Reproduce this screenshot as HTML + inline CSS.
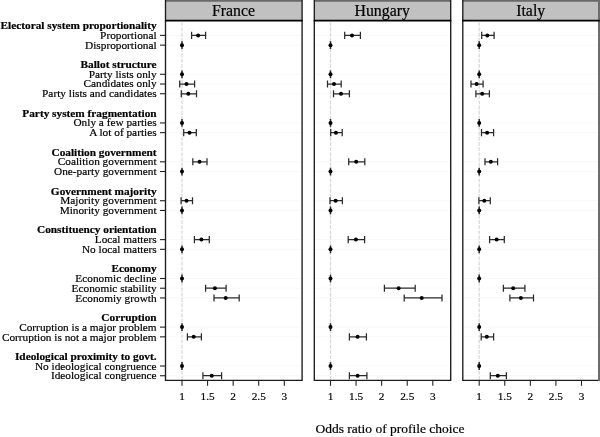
<!DOCTYPE html><html><head><meta charset="utf-8"><title>Odds ratio of profile choice</title>
<style>html,body{margin:0;padding:0;background:#fff}svg{display:block}text{font-family:"Liberation Serif",serif;fill:#000;stroke:#000;stroke-width:0.2px}</style></head><body>
<svg width="600" height="437" viewBox="0 0 600 437">
<rect x="0" y="0" width="600" height="437" fill="#fff"/>
<g font-size="11.3" text-anchor="end">
<text x="156.60" y="29.07" font-weight="bold" stroke-width="0.15">Electoral system proportionality</text>
<text x="156.60" y="38.80">Proportional</text>
<text x="156.60" y="48.54">Disproportional</text>
<text x="156.60" y="68.01" font-weight="bold" stroke-width="0.15">Ballot structure</text>
<text x="156.60" y="77.74">Party lists only</text>
<text x="156.60" y="87.47">Candidates only</text>
<text x="156.60" y="97.21">Party lists and candidates</text>
<text x="156.60" y="116.68" font-weight="bold" stroke-width="0.15">Party system fragmentation</text>
<text x="156.60" y="126.41">Only a few parties</text>
<text x="156.60" y="136.14">A lot of parties</text>
<text x="156.60" y="155.61" font-weight="bold" stroke-width="0.15">Coalition government</text>
<text x="156.60" y="165.35">Coalition government</text>
<text x="156.60" y="175.08">One-party government</text>
<text x="156.60" y="194.55" font-weight="bold" stroke-width="0.15">Government majority</text>
<text x="156.60" y="204.28">Majority government</text>
<text x="156.60" y="214.02">Minority government</text>
<text x="156.60" y="233.48" font-weight="bold" stroke-width="0.15">Constituency orientation</text>
<text x="156.60" y="243.22">Local matters</text>
<text x="156.60" y="252.95">No local matters</text>
<text x="156.60" y="272.42" font-weight="bold" stroke-width="0.15">Economy</text>
<text x="156.60" y="282.15">Economic decline</text>
<text x="156.60" y="291.89">Economic stability</text>
<text x="156.60" y="301.62">Economiy growth</text>
<text x="156.60" y="321.09" font-weight="bold" stroke-width="0.15">Corruption</text>
<text x="156.60" y="330.82">Corruption is a major problem</text>
<text x="156.60" y="340.56">Corruption is not a major problem</text>
<text x="156.60" y="360.03" font-weight="bold" stroke-width="0.15">Ideological proximity to govt.</text>
<text x="156.60" y="369.76">No ideological congruence</text>
<text x="156.60" y="379.49">Ideological congruence</text>
</g>
<g stroke="#222" stroke-width="1.1">
<line x1="160" x2="165.5" y1="35.40" y2="35.40"/>
<line x1="160" x2="165.5" y1="45.13" y2="45.13"/>
<line x1="160" x2="165.5" y1="74.30" y2="74.30"/>
<line x1="160" x2="165.5" y1="84.02" y2="84.02"/>
<line x1="160" x2="165.5" y1="93.75" y2="93.75"/>
<line x1="160" x2="165.5" y1="122.92" y2="122.92"/>
<line x1="160" x2="165.5" y1="132.64" y2="132.64"/>
<line x1="160" x2="165.5" y1="161.82" y2="161.82"/>
<line x1="160" x2="165.5" y1="171.54" y2="171.54"/>
<line x1="160" x2="165.5" y1="200.71" y2="200.71"/>
<line x1="160" x2="165.5" y1="210.44" y2="210.44"/>
<line x1="160" x2="165.5" y1="239.61" y2="239.61"/>
<line x1="160" x2="165.5" y1="249.33" y2="249.33"/>
<line x1="160" x2="165.5" y1="278.50" y2="278.50"/>
<line x1="160" x2="165.5" y1="288.23" y2="288.23"/>
<line x1="160" x2="165.5" y1="297.95" y2="297.95"/>
<line x1="160" x2="165.5" y1="327.12" y2="327.12"/>
<line x1="160" x2="165.5" y1="336.85" y2="336.85"/>
<line x1="160" x2="165.5" y1="366.02" y2="366.02"/>
<line x1="160" x2="165.5" y1="375.74" y2="375.74"/>
</g>
<rect x="165.5" y="0.6" width="136.6" height="20.0" fill="#c1c1c1"/>
<line x1="165.5" x2="302.1" y1="0.6" y2="0.6" stroke="#6a6a6a" stroke-width="2.2"/>
<text x="233.5" y="15.5" font-size="15.8" text-anchor="middle">France</text>
<g stroke="#f7f7f7" stroke-width="0.9">
<line x1="165.5" x2="302.1" y1="35.40" y2="35.40"/>
<line x1="165.5" x2="302.1" y1="45.13" y2="45.13"/>
<line x1="165.5" x2="302.1" y1="74.30" y2="74.30"/>
<line x1="165.5" x2="302.1" y1="84.02" y2="84.02"/>
<line x1="165.5" x2="302.1" y1="93.75" y2="93.75"/>
<line x1="165.5" x2="302.1" y1="122.92" y2="122.92"/>
<line x1="165.5" x2="302.1" y1="132.64" y2="132.64"/>
<line x1="165.5" x2="302.1" y1="161.82" y2="161.82"/>
<line x1="165.5" x2="302.1" y1="171.54" y2="171.54"/>
<line x1="165.5" x2="302.1" y1="200.71" y2="200.71"/>
<line x1="165.5" x2="302.1" y1="210.44" y2="210.44"/>
<line x1="165.5" x2="302.1" y1="239.61" y2="239.61"/>
<line x1="165.5" x2="302.1" y1="249.33" y2="249.33"/>
<line x1="165.5" x2="302.1" y1="278.50" y2="278.50"/>
<line x1="165.5" x2="302.1" y1="288.23" y2="288.23"/>
<line x1="165.5" x2="302.1" y1="297.95" y2="297.95"/>
<line x1="165.5" x2="302.1" y1="327.12" y2="327.12"/>
<line x1="165.5" x2="302.1" y1="336.85" y2="336.85"/>
<line x1="165.5" x2="302.1" y1="366.02" y2="366.02"/>
<line x1="165.5" x2="302.1" y1="375.74" y2="375.74"/>
</g>
<line x1="182.0" x2="182.0" y1="22.4" y2="380.4" stroke="#d8d8d8" stroke-width="1.2" stroke-dasharray="3.9 1.3"/>
<g stroke="#2a2a2a" stroke-width="1.25" fill="none">
<path d="M191.6 31.85V38.95M205.6 31.85V38.95M191.6 35.40H205.6"/>
<line x1="182.0" x2="182.0" y1="41.23" y2="49.03" stroke-width="1.5"/>
<line x1="182.0" x2="182.0" y1="70.40" y2="78.20" stroke-width="1.5"/>
<path d="M179.7 80.47V87.57M194.6 80.47V87.57M179.7 84.02H194.6"/>
<path d="M181.3 90.20V97.30M196.5 90.20V97.30M181.3 93.75H196.5"/>
<line x1="182.0" x2="182.0" y1="119.02" y2="126.82" stroke-width="1.5"/>
<path d="M183.7 129.09V136.19M196.3 129.09V136.19M183.7 132.64H196.3"/>
<path d="M192.8 158.27V165.37M207 158.27V165.37M192.8 161.82H207"/>
<line x1="182.0" x2="182.0" y1="167.64" y2="175.44" stroke-width="1.5"/>
<path d="M181.1 197.16V204.26M192.5 197.16V204.26M181.1 200.71H192.5"/>
<line x1="182.0" x2="182.0" y1="206.54" y2="214.34" stroke-width="1.5"/>
<path d="M194.4 236.06V243.16M209.3 236.06V243.16M194.4 239.61H209.3"/>
<line x1="182.0" x2="182.0" y1="245.43" y2="253.23" stroke-width="1.5"/>
<line x1="182.0" x2="182.0" y1="274.60" y2="282.40" stroke-width="1.5"/>
<path d="M205.6 284.68V291.78M226.1 284.68V291.78M205.6 288.23H226.1"/>
<path d="M214 294.40V301.50M239.2 294.40V301.50M214 297.95H239.2"/>
<line x1="182.0" x2="182.0" y1="323.22" y2="331.02" stroke-width="1.5"/>
<path d="M187.4 333.30V340.40M201.4 333.30V340.40M187.4 336.85H201.4"/>
<line x1="182.0" x2="182.0" y1="362.12" y2="369.92" stroke-width="1.5"/>
<path d="M202.9 372.19V379.29M221.6 372.19V379.29M202.9 375.74H221.6"/>
</g>
<g fill="#000">
<circle cx="198.1" cy="35.40" r="2.0"/>
<circle cx="182.0" cy="45.13" r="2.0"/>
<circle cx="182.0" cy="74.30" r="2.0"/>
<circle cx="186.5" cy="84.02" r="2.0"/>
<circle cx="188.3" cy="93.75" r="2.0"/>
<circle cx="182.0" cy="122.92" r="2.0"/>
<circle cx="189.5" cy="132.64" r="2.0"/>
<circle cx="199.5" cy="161.82" r="2.0"/>
<circle cx="182.0" cy="171.54" r="2.0"/>
<circle cx="186.5" cy="200.71" r="2.0"/>
<circle cx="182.0" cy="210.44" r="2.0"/>
<circle cx="201.4" cy="239.61" r="2.0"/>
<circle cx="182.0" cy="249.33" r="2.0"/>
<circle cx="182.0" cy="278.50" r="2.0"/>
<circle cx="214.9" cy="288.23" r="2.0"/>
<circle cx="225.7" cy="297.95" r="2.0"/>
<circle cx="182.0" cy="327.12" r="2.0"/>
<circle cx="193.7" cy="336.85" r="2.0"/>
<circle cx="182.0" cy="366.02" r="2.0"/>
<circle cx="211.7" cy="375.74" r="2.0"/>
</g>
<path d="M165.5 0V380.4H302.1V0" fill="none" stroke="#1c1c1c" stroke-width="1.35"/>
<line x1="164.9" x2="302.70000000000005" y1="20.6" y2="20.6" stroke="#000" stroke-width="1.6"/>
<g stroke="#222" stroke-width="1.1">
<line x1="182.00" x2="182.00" y1="380.4" y2="385.8"/>
<line x1="207.57" x2="207.57" y1="380.4" y2="385.8"/>
<line x1="233.15" x2="233.15" y1="380.4" y2="385.8"/>
<line x1="258.73" x2="258.73" y1="380.4" y2="385.8"/>
<line x1="284.30" x2="284.30" y1="380.4" y2="385.8"/>
</g>
<g font-size="11.3" text-anchor="middle" stroke-width="0.1">
<text x="182.00" y="399.7">1</text>
<text x="207.57" y="399.7">1.5</text>
<text x="233.15" y="399.7">2</text>
<text x="258.73" y="399.7">2.5</text>
<text x="284.30" y="399.7">3</text>
</g>
<rect x="314.3" y="0.6" width="136.4" height="20.0" fill="#c1c1c1"/>
<line x1="314.3" x2="450.7" y1="0.6" y2="0.6" stroke="#6a6a6a" stroke-width="2.2"/>
<text x="382.2" y="15.5" font-size="15.8" text-anchor="middle">Hungary</text>
<g stroke="#f7f7f7" stroke-width="0.9">
<line x1="314.3" x2="450.7" y1="35.40" y2="35.40"/>
<line x1="314.3" x2="450.7" y1="45.13" y2="45.13"/>
<line x1="314.3" x2="450.7" y1="74.30" y2="74.30"/>
<line x1="314.3" x2="450.7" y1="84.02" y2="84.02"/>
<line x1="314.3" x2="450.7" y1="93.75" y2="93.75"/>
<line x1="314.3" x2="450.7" y1="122.92" y2="122.92"/>
<line x1="314.3" x2="450.7" y1="132.64" y2="132.64"/>
<line x1="314.3" x2="450.7" y1="161.82" y2="161.82"/>
<line x1="314.3" x2="450.7" y1="171.54" y2="171.54"/>
<line x1="314.3" x2="450.7" y1="200.71" y2="200.71"/>
<line x1="314.3" x2="450.7" y1="210.44" y2="210.44"/>
<line x1="314.3" x2="450.7" y1="239.61" y2="239.61"/>
<line x1="314.3" x2="450.7" y1="249.33" y2="249.33"/>
<line x1="314.3" x2="450.7" y1="278.50" y2="278.50"/>
<line x1="314.3" x2="450.7" y1="288.23" y2="288.23"/>
<line x1="314.3" x2="450.7" y1="297.95" y2="297.95"/>
<line x1="314.3" x2="450.7" y1="327.12" y2="327.12"/>
<line x1="314.3" x2="450.7" y1="336.85" y2="336.85"/>
<line x1="314.3" x2="450.7" y1="366.02" y2="366.02"/>
<line x1="314.3" x2="450.7" y1="375.74" y2="375.74"/>
</g>
<line x1="330.5" x2="330.5" y1="22.4" y2="380.4" stroke="#d8d8d8" stroke-width="1.2" stroke-dasharray="3.9 1.3"/>
<g stroke="#2a2a2a" stroke-width="1.25" fill="none">
<path d="M344.7 31.85V38.95M360.4 31.85V38.95M344.7 35.40H360.4"/>
<line x1="330.5" x2="330.5" y1="41.23" y2="49.03" stroke-width="1.5"/>
<line x1="330.5" x2="330.5" y1="70.40" y2="78.20" stroke-width="1.5"/>
<path d="M327.5 80.47V87.57M341.2 80.47V87.57M327.5 84.02H341.2"/>
<path d="M333.5 90.20V97.30M349.4 90.20V97.30M333.5 93.75H349.4"/>
<line x1="330.5" x2="330.5" y1="119.02" y2="126.82" stroke-width="1.5"/>
<path d="M330.7 129.09V136.19M342.2 129.09V136.19M330.7 132.64H342.2"/>
<path d="M348.7 158.27V165.37M364.8 158.27V165.37M348.7 161.82H364.8"/>
<line x1="330.5" x2="330.5" y1="167.64" y2="175.44" stroke-width="1.5"/>
<path d="M330 197.16V204.26M342.4 197.16V204.26M330 200.71H342.4"/>
<line x1="330.5" x2="330.5" y1="206.54" y2="214.34" stroke-width="1.5"/>
<path d="M348.2 236.06V243.16M364.6 236.06V243.16M348.2 239.61H364.6"/>
<line x1="330.5" x2="330.5" y1="245.43" y2="253.23" stroke-width="1.5"/>
<line x1="330.5" x2="330.5" y1="274.60" y2="282.40" stroke-width="1.5"/>
<path d="M384.4 284.68V291.78M415.2 284.68V291.78M384.4 288.23H415.2"/>
<path d="M404.2 294.40V301.50M442 294.40V301.50M404.2 297.95H442"/>
<line x1="330.5" x2="330.5" y1="323.22" y2="331.02" stroke-width="1.5"/>
<path d="M349.4 333.30V340.40M366.4 333.30V340.40M349.4 336.85H366.4"/>
<line x1="330.5" x2="330.5" y1="362.12" y2="369.92" stroke-width="1.5"/>
<path d="M349.4 372.19V379.29M366.9 372.19V379.29M349.4 375.74H366.9"/>
</g>
<g fill="#000">
<circle cx="352" cy="35.40" r="2.0"/>
<circle cx="330.5" cy="45.13" r="2.0"/>
<circle cx="330.5" cy="74.30" r="2.0"/>
<circle cx="334" cy="84.02" r="2.0"/>
<circle cx="341" cy="93.75" r="2.0"/>
<circle cx="330.5" cy="122.92" r="2.0"/>
<circle cx="335.9" cy="132.64" r="2.0"/>
<circle cx="356.2" cy="161.82" r="2.0"/>
<circle cx="330.5" cy="171.54" r="2.0"/>
<circle cx="335.6" cy="200.71" r="2.0"/>
<circle cx="330.5" cy="210.44" r="2.0"/>
<circle cx="355.9" cy="239.61" r="2.0"/>
<circle cx="330.5" cy="249.33" r="2.0"/>
<circle cx="330.5" cy="278.50" r="2.0"/>
<circle cx="398.6" cy="288.23" r="2.0"/>
<circle cx="421.7" cy="297.95" r="2.0"/>
<circle cx="330.5" cy="327.12" r="2.0"/>
<circle cx="357.6" cy="336.85" r="2.0"/>
<circle cx="330.5" cy="366.02" r="2.0"/>
<circle cx="357.6" cy="375.74" r="2.0"/>
</g>
<path d="M314.3 0V380.4H450.7V0" fill="none" stroke="#1c1c1c" stroke-width="1.35"/>
<line x1="313.7" x2="451.3" y1="20.6" y2="20.6" stroke="#000" stroke-width="1.6"/>
<g stroke="#222" stroke-width="1.1">
<line x1="330.50" x2="330.50" y1="380.4" y2="385.8"/>
<line x1="356.07" x2="356.07" y1="380.4" y2="385.8"/>
<line x1="381.65" x2="381.65" y1="380.4" y2="385.8"/>
<line x1="407.23" x2="407.23" y1="380.4" y2="385.8"/>
<line x1="432.80" x2="432.80" y1="380.4" y2="385.8"/>
</g>
<g font-size="11.3" text-anchor="middle" stroke-width="0.1">
<text x="330.50" y="399.7">1</text>
<text x="356.07" y="399.7">1.5</text>
<text x="381.65" y="399.7">2</text>
<text x="407.23" y="399.7">2.5</text>
<text x="432.80" y="399.7">3</text>
</g>
<rect x="462.8" y="0.6" width="136.4" height="20.0" fill="#c1c1c1"/>
<line x1="462.8" x2="599.2" y1="0.6" y2="0.6" stroke="#6a6a6a" stroke-width="2.2"/>
<text x="530.7" y="15.5" font-size="15.8" text-anchor="middle">Italy</text>
<g stroke="#f7f7f7" stroke-width="0.9">
<line x1="462.8" x2="599.2" y1="35.40" y2="35.40"/>
<line x1="462.8" x2="599.2" y1="45.13" y2="45.13"/>
<line x1="462.8" x2="599.2" y1="74.30" y2="74.30"/>
<line x1="462.8" x2="599.2" y1="84.02" y2="84.02"/>
<line x1="462.8" x2="599.2" y1="93.75" y2="93.75"/>
<line x1="462.8" x2="599.2" y1="122.92" y2="122.92"/>
<line x1="462.8" x2="599.2" y1="132.64" y2="132.64"/>
<line x1="462.8" x2="599.2" y1="161.82" y2="161.82"/>
<line x1="462.8" x2="599.2" y1="171.54" y2="171.54"/>
<line x1="462.8" x2="599.2" y1="200.71" y2="200.71"/>
<line x1="462.8" x2="599.2" y1="210.44" y2="210.44"/>
<line x1="462.8" x2="599.2" y1="239.61" y2="239.61"/>
<line x1="462.8" x2="599.2" y1="249.33" y2="249.33"/>
<line x1="462.8" x2="599.2" y1="278.50" y2="278.50"/>
<line x1="462.8" x2="599.2" y1="288.23" y2="288.23"/>
<line x1="462.8" x2="599.2" y1="297.95" y2="297.95"/>
<line x1="462.8" x2="599.2" y1="327.12" y2="327.12"/>
<line x1="462.8" x2="599.2" y1="336.85" y2="336.85"/>
<line x1="462.8" x2="599.2" y1="366.02" y2="366.02"/>
<line x1="462.8" x2="599.2" y1="375.74" y2="375.74"/>
</g>
<line x1="479.2" x2="479.2" y1="22.4" y2="380.4" stroke="#d8d8d8" stroke-width="1.2" stroke-dasharray="3.9 1.3"/>
<g stroke="#2a2a2a" stroke-width="1.25" fill="none">
<path d="M481.7 31.85V38.95M494.1 31.85V38.95M481.7 35.40H494.1"/>
<line x1="479.2" x2="479.2" y1="41.23" y2="49.03" stroke-width="1.5"/>
<line x1="479.2" x2="479.2" y1="70.40" y2="78.20" stroke-width="1.5"/>
<path d="M471 80.47V87.57M483.1 80.47V87.57M471 84.02H483.1"/>
<path d="M475.9 90.20V97.30M489.4 90.20V97.30M475.9 93.75H489.4"/>
<line x1="479.2" x2="479.2" y1="119.02" y2="126.82" stroke-width="1.5"/>
<path d="M481.5 129.09V136.19M493.6 129.09V136.19M481.5 132.64H493.6"/>
<path d="M485 158.27V165.37M497.6 158.27V165.37M485 161.82H497.6"/>
<line x1="479.2" x2="479.2" y1="167.64" y2="175.44" stroke-width="1.5"/>
<path d="M478.9 197.16V204.26M490.3 197.16V204.26M478.9 200.71H490.3"/>
<line x1="479.2" x2="479.2" y1="206.54" y2="214.34" stroke-width="1.5"/>
<path d="M489.6 236.06V243.16M504.3 236.06V243.16M489.6 239.61H504.3"/>
<line x1="479.2" x2="479.2" y1="245.43" y2="253.23" stroke-width="1.5"/>
<line x1="479.2" x2="479.2" y1="274.60" y2="282.40" stroke-width="1.5"/>
<path d="M503.4 284.68V291.78M524.9 284.68V291.78M503.4 288.23H524.9"/>
<path d="M509.9 294.40V301.50M533.5 294.40V301.50M509.9 297.95H533.5"/>
<line x1="479.2" x2="479.2" y1="323.22" y2="331.02" stroke-width="1.5"/>
<path d="M481.2 333.30V340.40M493.6 333.30V340.40M481.2 336.85H493.6"/>
<line x1="479.2" x2="479.2" y1="362.12" y2="369.92" stroke-width="1.5"/>
<path d="M490.3 372.19V379.29M506.4 372.19V379.29M490.3 375.74H506.4"/>
</g>
<g fill="#000">
<circle cx="487.3" cy="35.40" r="2.0"/>
<circle cx="479.2" cy="45.13" r="2.0"/>
<circle cx="479.2" cy="74.30" r="2.0"/>
<circle cx="476.6" cy="84.02" r="2.0"/>
<circle cx="482.2" cy="93.75" r="2.0"/>
<circle cx="479.2" cy="122.92" r="2.0"/>
<circle cx="487.1" cy="132.64" r="2.0"/>
<circle cx="490.8" cy="161.82" r="2.0"/>
<circle cx="479.2" cy="171.54" r="2.0"/>
<circle cx="484.3" cy="200.71" r="2.0"/>
<circle cx="479.2" cy="210.44" r="2.0"/>
<circle cx="496.6" cy="239.61" r="2.0"/>
<circle cx="479.2" cy="249.33" r="2.0"/>
<circle cx="479.2" cy="278.50" r="2.0"/>
<circle cx="513.2" cy="288.23" r="2.0"/>
<circle cx="520.9" cy="297.95" r="2.0"/>
<circle cx="479.2" cy="327.12" r="2.0"/>
<circle cx="486.8" cy="336.85" r="2.0"/>
<circle cx="479.2" cy="366.02" r="2.0"/>
<circle cx="497.8" cy="375.74" r="2.0"/>
</g>
<path d="M462.8 0V380.4H599.2" fill="none" stroke="#1c1c1c" stroke-width="1.35"/>
<rect x="598" y="0" width="2" height="381.0" fill="#6c6c6c"/>
<line x1="462.2" x2="599.8000000000001" y1="20.6" y2="20.6" stroke="#000" stroke-width="1.6"/>
<g stroke="#222" stroke-width="1.1">
<line x1="479.20" x2="479.20" y1="380.4" y2="385.8"/>
<line x1="504.77" x2="504.77" y1="380.4" y2="385.8"/>
<line x1="530.35" x2="530.35" y1="380.4" y2="385.8"/>
<line x1="555.92" x2="555.92" y1="380.4" y2="385.8"/>
<line x1="581.50" x2="581.50" y1="380.4" y2="385.8"/>
</g>
<g font-size="11.3" text-anchor="middle" stroke-width="0.1">
<text x="479.20" y="399.7">1</text>
<text x="504.77" y="399.7">1.5</text>
<text x="530.35" y="399.7">2</text>
<text x="555.92" y="399.7">2.5</text>
<text x="581.50" y="399.7">3</text>
</g>
<text x="390" y="432.8" font-size="13.5" text-anchor="middle" stroke="none">Odds ratio of profile choice</text>
</svg></body></html>
